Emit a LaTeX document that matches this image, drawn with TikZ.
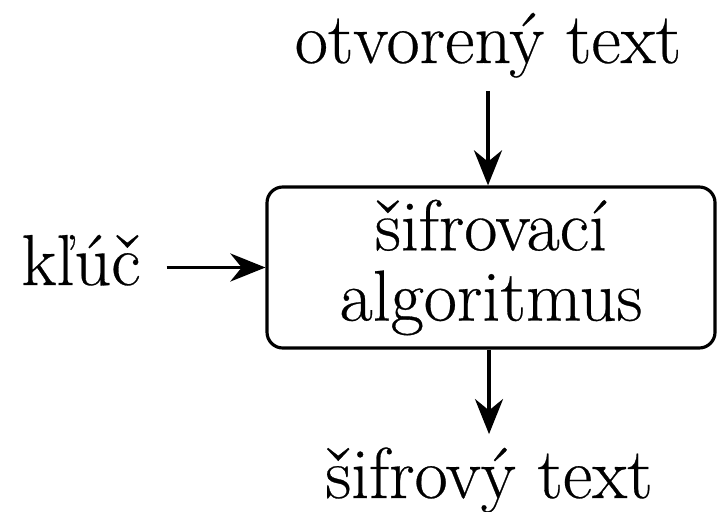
\documentclass[tikz,border=0pt]{standalone}
\usepackage{fontspec}
\setmainfont{Latin Modern Roman}[FakeBold=0.4]
\usetikzlibrary{arrows.meta}
\begin{document}
\begin{tikzpicture}[>={Stealth[length=10pt,width=8pt]}, line width=0.9pt, every node/.style={font=\fontsize{20.5}{20}\selectfont}]
    \useasboundingbox (0,0) rectangle (7.17,5.11);
    \node[draw, rounded corners=4.5pt, minimum width=4.48cm, minimum height=1.61cm, align=center] (algo) at (4.91,2.435) {šifrovací\\algoritmus};
    \node[anchor=base] (plain) at (4.88,4.48) {otvorený text};
    \node[anchor=base] (cipher) at (4.89,0.13) {šifrový text};
    \node[anchor=base, inner xsep=7pt] (key) at (0.81,2.26) {kľúč};
    \draw[->] (plain) -- (plain |- algo.north);
    \draw[->] (key.east |- algo.west) -- (algo.west);
    \draw[->] (algo.south -| cipher) -- (cipher);
\end{tikzpicture}
\end{document}
